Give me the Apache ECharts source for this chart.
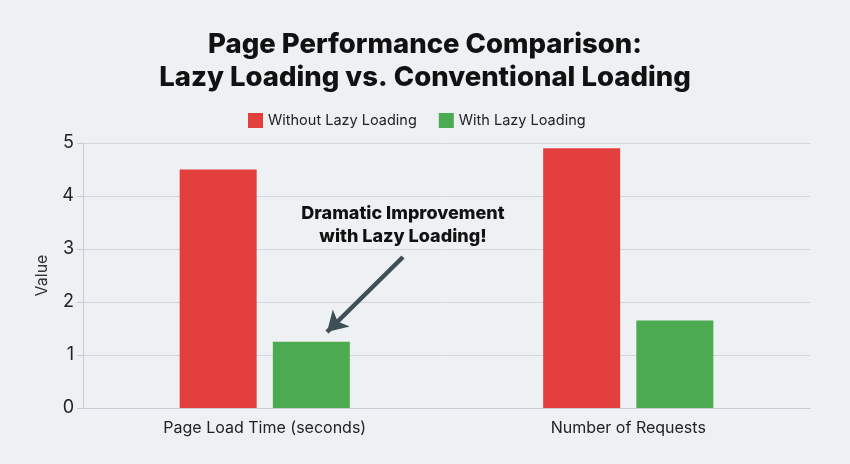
<!DOCTYPE html>
<html>
<head>
<meta charset="utf-8">
<script src="https://cdn.jsdelivr.net/npm/echarts@6/dist/echarts.min.js"></script>
<style>
  html, body { margin: 0; padding: 0; background: #eef1f4; }
  #chart_container { width: 850px; height: 464px; }
</style>
</head>
<body>
<div id="chart_container"></div>
<script>
"use strict";

// chart data
const categories = ['Page Load Time (seconds)', 'Number of Requests'];
const withoutLazy = [4.5, 4.9];
const withLazy = [1.25, 1.65];
const yTicks = [0, 1, 2, 3, 4, 5];

const RED = '#e3403d';
const GREEN = '#4caa50';
const BG = '#eef1f4';
const FONT = 'Inter, "Noto Sans", sans-serif';

let myChart;

let pageLoaded = () => {
    let chartDom = document.getElementById('chart_container');
    myChart = echarts.init(chartDom, null, { renderer: 'canvas' });

    let opt = {
        backgroundColor: BG,
        animation: false,
        textStyle: { fontFamily: FONT },
        title: {
            text: 'Page Performance Comparison:\nLazy Loading vs. Conventional Loading',
            left: 'center',
            top: 23,
            textStyle: {
                fontSize: 27.5,
                fontWeight: 800,
                color: '#111',
                lineHeight: 33,
                fontFamily: FONT
            }
        },
        legend: {
            top: 108,
            left: 243,
            itemWidth: 15,
            itemHeight: 15,
            itemGap: 22,
            icon: 'rect',
            textStyle: { fontSize: 14.5, color: '#222', fontFamily: FONT },
            data: ['Without Lazy Loading', 'With Lazy Loading']
        },
        grid: {
            left: 83,
            right: 40,
            top: 143,
            bottom: 56
        },
        xAxis: {
            type: 'category',
            data: categories,
            axisLine: { lineStyle: { color: '#c8ccd2', width: 1 } },
            axisTick: { show: false },
            axisLabel: { fontSize: 16, color: '#222', margin: 12, fontFamily: FONT }
        },
        yAxis: {
            type: 'value',
            name: 'Value',
            nameLocation: 'middle',
            nameGap: 33,
            nameTextStyle: { fontSize: 16, color: '#333', fontFamily: FONT },
            min: yTicks[0],
            max: yTicks[yTicks.length - 1],
            interval: 1,
            axisLine: { show: true, lineStyle: { color: '#c8ccd2' } },
            axisTick: { show: true, length: 6, lineStyle: { color: '#c8ccd2' } },
            axisLabel: { fontSize: 18, color: '#222', margin: 9, fontFamily: FONT },
            splitLine: { lineStyle: { color: '#d3d6db', width: 1 } }
        },
        series: [
            {
                name: 'Without Lazy Loading',
                type: 'bar',
                data: withoutLazy,
                barWidth: 77,
                barGap: '21%',
                itemStyle: { color: RED },
                markLine: {
                    silent: true,
                    symbol: ['none', 'arrow'],
                    symbolSize: [18, 20],
                    label: { show: false },
                    lineStyle: { color: '#3e4f58', width: 4.5, type: 'solid' },
                    data: [[{ x: 403, y: 257 }, { x: 327, y: 332 }]]
                }
            },
            {
                name: 'With Lazy Loading',
                type: 'bar',
                data: withLazy,
                barWidth: 77,
                itemStyle: { color: GREEN }
            }
        ],
        graphic: [
            {
                type: 'text',
                x: 403,
                y: 202,
                z: 100,
                style: {
                    text: 'Dramatic Improvement\nwith Lazy Loading!',
                    fontSize: 18,
                    fontWeight: 800,
                    fontFamily: FONT,
                    fill: '#111',
                    align: 'center',
                    verticalAlign: 'top',
                    lineHeight: 23,
                    backgroundColor: BG,
                    padding: [0, 10, 0, 10]
                }
            }
        ]
    };

    myChart.setOption(opt);
    console.log(`echart config and creation complete`);
};

window.addEventListener('load', pageLoaded, false);
</script>
</body>
</html>
